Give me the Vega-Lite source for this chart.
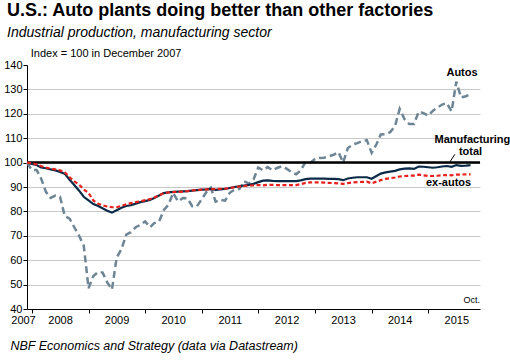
{
  "$schema": "https://vega.github.io/schema/vega-lite/v6.json",
  "width": 453,
  "height": 244,
  "autosize": "none",
  "padding": {"left": 27, "top": 65, "right": 30, "bottom": 51},
  "background": "white",
  "config": {"font": "Liberation Sans", "view": {"stroke": null}},
  "title": {
    "text": "U.S.: Auto plants doing better than other factories",
    "subtitle": "Industrial production, manufacturing sector",
    "anchor": "start",
    "frame": "group",
    "font": "Liberation Sans",
    "fontSize": 18,
    "fontWeight": "bold",
    "color": "black",
    "subtitleFont": "Liberation Sans",
    "subtitleFontSize": 14,
    "subtitleFontStyle": "italic",
    "subtitleColor": "black",
    "subtitlePadding": 6,
    "dx": -20,
    "offset": 8
  },
  "datasets": {
    "ip": [
      {"d":"2007-12-01","autos":100,"total":100,"ex":100},
      {"d":"2008-01-01","autos":97,"total":99.5,"ex":99.7},
      {"d":"2008-02-01","autos":97,"total":99,"ex":99.3},
      {"d":"2008-03-01","autos":93.5,"total":98,"ex":98.6},
      {"d":"2008-04-01","autos":88,"total":97.7,"ex":98},
      {"d":"2008-05-01","autos":85.5,"total":97.2,"ex":97.5},
      {"d":"2008-06-01","autos":86.5,"total":96.8,"ex":97.2},
      {"d":"2008-07-01","autos":86,"total":96.2,"ex":96.8},
      {"d":"2008-08-01","autos":78,"total":95.4,"ex":96},
      {"d":"2008-09-01","autos":77,"total":93,"ex":94},
      {"d":"2008-10-01","autos":73.5,"total":90.8,"ex":92.3},
      {"d":"2008-11-01","autos":70,"total":88.5,"ex":91},
      {"d":"2008-12-01","autos":66,"total":86,"ex":89},
      {"d":"2009-01-01","autos":48.5,"total":84.5,"ex":87.5},
      {"d":"2009-02-01","autos":53.5,"total":83,"ex":84.5},
      {"d":"2009-03-01","autos":55,"total":82.3,"ex":83.2},
      {"d":"2009-04-01","autos":55,"total":81.3,"ex":82.5},
      {"d":"2009-05-01","autos":51,"total":80.3,"ex":82},
      {"d":"2009-06-01","autos":48,"total":79.5,"ex":81.7},
      {"d":"2009-07-01","autos":61,"total":80.5,"ex":81.7},
      {"d":"2009-08-01","autos":64.5,"total":81.5,"ex":82.3},
      {"d":"2009-09-01","autos":70.5,"total":82.2,"ex":82.9},
      {"d":"2009-10-01","autos":71.5,"total":82.5,"ex":83.4},
      {"d":"2009-11-01","autos":73.5,"total":83.2,"ex":83.8},
      {"d":"2009-12-01","autos":74.5,"total":83.8,"ex":84.1},
      {"d":"2010-01-01","autos":75.9,"total":84.2,"ex":84.6},
      {"d":"2010-02-01","autos":73.5,"total":84.7,"ex":85},
      {"d":"2010-03-01","autos":75.2,"total":85.5,"ex":85.7},
      {"d":"2010-04-01","autos":75.9,"total":86.5,"ex":86.6},
      {"d":"2010-05-01","autos":80.5,"total":87.5,"ex":87.5},
      {"d":"2010-06-01","autos":82.8,"total":87.8,"ex":87.8},
      {"d":"2010-07-01","autos":87.6,"total":88,"ex":87.9},
      {"d":"2010-08-01","autos":84.1,"total":88.1,"ex":88},
      {"d":"2010-09-01","autos":85.5,"total":88.2,"ex":88.1},
      {"d":"2010-10-01","autos":85.3,"total":88.3,"ex":88.3},
      {"d":"2010-11-01","autos":82.1,"total":88.5,"ex":88.6},
      {"d":"2010-12-01","autos":82.1,"total":88.7,"ex":88.7},
      {"d":"2011-01-01","autos":85,"total":88.9,"ex":88.9},
      {"d":"2011-02-01","autos":88,"total":89,"ex":89},
      {"d":"2011-03-01","autos":89.7,"total":89.2,"ex":89.1},
      {"d":"2011-04-01","autos":84,"total":88.8,"ex":89.2},
      {"d":"2011-05-01","autos":84.8,"total":89,"ex":89.2},
      {"d":"2011-06-01","autos":84.4,"total":89.2,"ex":89.3},
      {"d":"2011-07-01","autos":87.6,"total":89.6,"ex":89.6},
      {"d":"2011-08-01","autos":89,"total":90,"ex":89.9},
      {"d":"2011-09-01","autos":89.2,"total":90.3,"ex":90.2},
      {"d":"2011-10-01","autos":92.4,"total":90.6,"ex":90.4},
      {"d":"2011-11-01","autos":91.4,"total":90.9,"ex":90.6},
      {"d":"2011-12-01","autos":93.1,"total":91.3,"ex":90.7},
      {"d":"2012-01-01","autos":98,"total":92,"ex":90.8},
      {"d":"2012-02-01","autos":96.8,"total":92.6,"ex":90.7},
      {"d":"2012-03-01","autos":98.2,"total":92.7,"ex":90.9},
      {"d":"2012-04-01","autos":96.8,"total":92.5,"ex":90.9},
      {"d":"2012-05-01","autos":97.8,"total":92.4,"ex":90.8},
      {"d":"2012-06-01","autos":98.5,"total":92.4,"ex":90.8},
      {"d":"2012-07-01","autos":97.5,"total":92.4,"ex":90.8},
      {"d":"2012-08-01","autos":96.2,"total":92.4,"ex":90.8},
      {"d":"2012-09-01","autos":95.2,"total":92.4,"ex":90.8},
      {"d":"2012-10-01","autos":96.8,"total":92.7,"ex":91.2},
      {"d":"2012-11-01","autos":100.3,"total":93.2,"ex":91.7},
      {"d":"2012-12-01","autos":99.9,"total":93.4,"ex":91.9},
      {"d":"2013-01-01","autos":101.5,"total":93.4,"ex":91.9},
      {"d":"2013-02-01","autos":101.9,"total":93.4,"ex":91.9},
      {"d":"2013-03-01","autos":102,"total":93.4,"ex":91.8},
      {"d":"2013-04-01","autos":102.6,"total":93.3,"ex":91.7},
      {"d":"2013-05-01","autos":103.2,"total":93.3,"ex":91.6},
      {"d":"2013-06-01","autos":104.3,"total":93.2,"ex":91.5},
      {"d":"2013-07-01","autos":100,"total":92.8,"ex":91.3},
      {"d":"2013-08-01","autos":106,"total":93.5,"ex":91.6},
      {"d":"2013-09-01","autos":107.4,"total":93.8,"ex":91.9},
      {"d":"2013-10-01","autos":108,"total":94,"ex":92},
      {"d":"2013-11-01","autos":108.8,"total":94,"ex":92.1},
      {"d":"2013-12-01","autos":109.2,"total":94,"ex":92.2},
      {"d":"2014-01-01","autos":104,"total":93.4,"ex":91.5},
      {"d":"2014-02-01","autos":107.5,"total":94.5,"ex":92.2},
      {"d":"2014-03-01","autos":111.5,"total":95.5,"ex":92.8},
      {"d":"2014-04-01","autos":111.7,"total":96,"ex":93.3},
      {"d":"2014-05-01","autos":112.5,"total":96.3,"ex":93.6},
      {"d":"2014-06-01","autos":115,"total":96.6,"ex":93.9},
      {"d":"2014-07-01","autos":122,"total":97.2,"ex":94.3},
      {"d":"2014-08-01","autos":117.8,"total":97.5,"ex":94.5},
      {"d":"2014-09-01","autos":115.8,"total":97.6,"ex":94.6},
      {"d":"2014-10-01","autos":115.8,"total":97.4,"ex":94.7},
      {"d":"2014-11-01","autos":120.9,"total":98.4,"ex":95.1},
      {"d":"2014-12-01","autos":120.3,"total":98.3,"ex":94.8},
      {"d":"2015-01-01","autos":119.2,"total":98.1,"ex":94.5},
      {"d":"2015-02-01","autos":121.3,"total":97.9,"ex":94.5},
      {"d":"2015-03-01","autos":122.5,"total":98.1,"ex":94.6},
      {"d":"2015-04-01","autos":123.8,"total":98.4,"ex":94.8},
      {"d":"2015-05-01","autos":124.4,"total":98.6,"ex":94.9},
      {"d":"2015-06-01","autos":121,"total":98.3,"ex":94.8},
      {"d":"2015-07-01","autos":133.2,"total":99,"ex":95.1},
      {"d":"2015-08-01","autos":126.7,"total":98.7,"ex":95.1},
      {"d":"2015-09-01","autos":127.2,"total":98.8,"ex":95.2},
      {"d":"2015-10-01","autos":128,"total":99,"ex":95.2}
    ]
  },
  "encoding": {
    "x": {
      "field": "d",
      "type": "temporal",
      "scale": {"type": "utc", "domain": [{"year": 2007, "month": 12, "date": 1, "utc": true}, {"year": 2015, "month": 12, "date": 1, "utc": true}]},
      "axis": {
        "values": [
          {"year": 2007, "month": 12, "date": 1, "utc": true},
          {"year": 2008, "month": 1, "date": 1, "utc": true},
          {"year": 2008, "month": 7, "date": 1, "utc": true},
          {"year": 2009, "month": 1, "date": 1, "utc": true},
          {"year": 2009, "month": 7, "date": 1, "utc": true},
          {"year": 2010, "month": 1, "date": 1, "utc": true},
          {"year": 2010, "month": 7, "date": 1, "utc": true},
          {"year": 2011, "month": 1, "date": 1, "utc": true},
          {"year": 2011, "month": 7, "date": 1, "utc": true},
          {"year": 2012, "month": 1, "date": 1, "utc": true},
          {"year": 2012, "month": 7, "date": 1, "utc": true},
          {"year": 2013, "month": 1, "date": 1, "utc": true},
          {"year": 2013, "month": 7, "date": 1, "utc": true},
          {"year": 2014, "month": 1, "date": 1, "utc": true},
          {"year": 2014, "month": 7, "date": 1, "utc": true},
          {"year": 2015, "month": 1, "date": 1, "utc": true},
          {"year": 2015, "month": 7, "date": 1, "utc": true}
        ],
        "labelExpr": "utcmonth(datum.value) == 0 ? '' : utcFormat(datum.value, '%Y')",
        "tickSize": {"condition": {"test": "utcmonth(datum.value) == 0", "value": 4}, "value": 0},
        "labelOffset": {"condition": {"test": "utcmonth(datum.value) == 11", "value": -4}, "value": 0},
        "labelPadding": 5,
        "labelFont": "Liberation Sans",
        "labelFontSize": 11,
        "labelColor": "black",
        "labelOverlap": false,
        "labelFlush": false,
        "tickColor": "black",
        "domainColor": "black",
        "grid": false,
        "title": "NBF Economics and Strategy (data via Datastream)",
        "titleFont": "Liberation Sans",
        "titleFontSize": 12.5,
        "titleFontStyle": "italic",
        "titleFontWeight": "normal",
        "titleColor": "black",
        "titleAnchor": "start",
        "titleAlign": "left",
        "titleBaseline": "alphabetic",
        "titleX": -17,
        "titleY": 40
      }
    },
    "y": {
      "field": "value",
      "type": "quantitative",
      "scale": {"domain": [40, 140], "nice": false, "zero": false},
      "axis": {
        "values": [40, 50, 60, 70, 80, 90, 100, 110, 120, 130, 140],
        "title": null,
        "tickSize": 4,
        "tickColor": "black",
        "domainColor": "black",
        "labelFont": "Liberation Sans",
        "labelFontSize": 11,
        "labelColor": "black",
        "labelPadding": 1,
        "grid": true,
        "gridColor": {"condition": {"test": "datum.value == 140 || datum.value == 40", "value": "transparent"}, "value": "#c8c8c8"},
        "gridWidth": 1
      }
    }
  },
  "layer": [
    {
      "data": {"name": "ip"},
      "transform": [{"fold": ["autos"], "as": ["series", "value"]}],
      "mark": {"type": "line", "color": "#6d8594", "strokeWidth": 2.5, "strokeDash": [7, 4]}
    },
    {
      "data": {"values": [{"d": "2007-12-01", "d2": "2015-12-01", "value": 100}]},
      "mark": {"type": "rule", "color": "black", "strokeWidth": 2.5},
      "encoding": {"x2": {"field": "d2"}}
    },
    {
      "data": {"name": "ip"},
      "transform": [{"fold": ["total"], "as": ["series", "value"]}],
      "mark": {"type": "line", "color": "#0b2a47", "strokeWidth": 2.2}
    },
    {
      "data": {"name": "ip"},
      "transform": [{"fold": ["ex"], "as": ["series", "value"]}],
      "mark": {"type": "line", "color": "#e8201c", "strokeWidth": 2.2, "strokeDash": [4, 2.5]}
    },
    {
      "data": {"values": [
        {"d": "2015-08-07", "value": 136.6, "label": "Autos"},
        {"d": "2015-10-13", "value": 109.1, "label": "Manufacturing"},
        {"d": "2015-10-01", "value": 104.2, "label": "total"},
        {"d": "2015-05-12", "value": 91.6, "label": "ex-autos"}
      ]},
      "mark": {"type": "text", "font": "Liberation Sans", "fontSize": 11, "fontWeight": "bold", "color": "black", "align": "center", "baseline": "middle"},
      "encoding": {"text": {"field": "label"}}
    },
    {
      "data": {"values": [{"d": "2015-12-01", "value": 42.3, "label": "Oct."}]},
      "mark": {"type": "text", "font": "Liberation Sans", "fontSize": 9, "color": "black", "align": "right", "baseline": "alphabetic"},
      "encoding": {"text": {"field": "label"}}
    },
    {
      "data": {"values": [{"d": "2007-12-25", "value": 144.6, "label": "Index = 100 in December 2007"}]},
      "mark": {"type": "text", "font": "Liberation Sans", "fontSize": 11, "color": "black", "align": "left", "baseline": "middle"},
      "encoding": {"text": {"field": "label"}}
    },
    {
      "data": {"values": [{"d": "2015-06-22", "d2": "2015-05-17", "value": 103.4, "value2": 99.9}]},
      "mark": {"type": "rule", "color": "black", "strokeWidth": 1},
      "encoding": {"x2": {"field": "d2"}, "y2": {"field": "value2"}}
    }
  ]
}
